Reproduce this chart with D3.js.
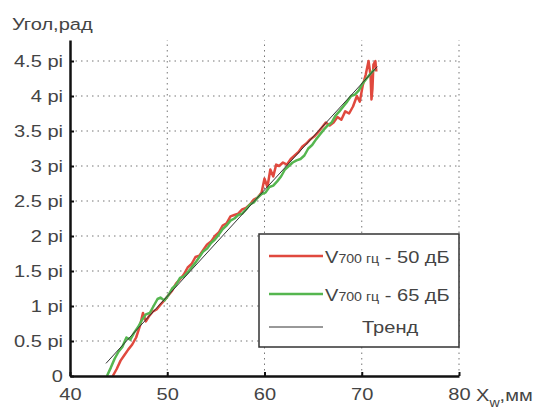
<!DOCTYPE html>
<html lang="ru">
<head>
    <meta charset="UTF-8">
    <title>Угол от X_w</title>
    <script src="https://d3js.org/d3.v7.min.js"></script>
    <style type="text/css">
        body { margin: 0; background: #fff; }
        text { font-family: "Liberation Sans", Arial, sans-serif; fill: #444; }
    </style>
</head>
<body>
<script type="text/javascript">

// data (x in mm, angle in units of pi)
var redX = [44.4, 44.8, 45.2, 45.6, 46.0, 46.4, 46.8, 47.2, 47.5, 47.8, 48.1, 48.5, 48.9, 49.3, 49.7, 50.1, 50.5, 50.9, 51.3, 51.7,
            52.1, 52.5, 52.9, 53.3, 53.7, 54.1, 54.5, 54.9, 55.3, 55.7, 56.1, 56.5, 56.9, 57.3, 57.7, 58.1, 58.5, 58.9, 59.3, 59.7,
            60.0, 60.3, 60.6, 60.9, 61.2, 61.5, 61.9, 62.3, 62.7, 63.1, 63.5, 63.9, 64.3, 64.7, 65.1, 65.5, 65.9, 66.3, 66.7, 67.1,
            67.5, 67.9, 68.3, 68.7, 69.1, 69.5, 69.8, 70.1, 70.4, 70.7, 70.9, 71.0, 71.1, 71.2, 71.4, 71.5];
var redY = [0.00, 0.10, 0.22, 0.30, 0.38, 0.45, 0.55, 0.72, 0.90, 0.78, 0.85, 0.92, 0.95, 1.02, 1.08, 1.15, 1.22, 1.32, 1.38, 1.45,
            1.55, 1.60, 1.70, 1.72, 1.80, 1.88, 1.92, 2.00, 2.05, 2.15, 2.18, 2.28, 2.30, 2.32, 2.38, 2.40, 2.45, 2.52, 2.55, 2.62,
            2.82, 2.70, 2.95, 2.85, 3.02, 3.00, 3.05, 3.02, 3.10, 3.15, 3.20, 3.28, 3.32, 3.38, 3.42, 3.48, 3.55, 3.62, 3.58, 3.62,
            3.70, 3.66, 3.78, 3.75, 3.85, 4.00, 3.92, 4.15, 4.30, 4.50, 4.30, 3.95, 4.10, 4.45, 4.50, 4.35];

var greenX = [43.8, 44.2, 44.6, 45.0, 45.4, 45.8, 46.2, 46.6, 47.0, 47.4, 47.8, 48.2, 48.6, 49.0, 49.3, 49.7, 50.1, 50.5, 50.9, 51.3,
              51.7, 52.1, 52.5, 52.9, 53.3, 53.7, 54.1, 54.5, 54.9, 55.3, 55.7, 56.1, 56.5, 56.9, 57.3, 57.7, 58.1, 58.5, 58.9, 59.3,
              59.7, 60.1, 60.5, 60.9, 61.3, 61.7, 62.1, 62.5, 62.9, 63.3, 63.7, 64.1, 64.5, 64.9, 65.3, 65.7, 66.1, 66.5, 66.9, 67.3,
              67.7, 68.1, 68.5, 68.9, 69.3, 69.7, 70.1, 70.5, 70.9, 71.3];
var greenY = [0.00, 0.12, 0.25, 0.35, 0.42, 0.55, 0.52, 0.62, 0.70, 0.80, 0.88, 0.90, 1.00, 1.10, 1.12, 1.08, 1.15, 1.25, 1.30, 1.40,
              1.42, 1.48, 1.55, 1.62, 1.70, 1.78, 1.82, 1.90, 1.95, 2.02, 2.10, 2.15, 2.22, 2.25, 2.30, 2.32, 2.38, 2.45, 2.48, 2.55,
              2.60, 2.62, 2.70, 2.72, 2.78, 2.85, 2.95, 3.00, 3.05, 3.08, 3.10, 3.15, 3.25, 3.30, 3.38, 3.45, 3.52, 3.58, 3.62, 3.72,
              3.78, 3.85, 3.92, 4.00, 4.02, 4.08, 4.18, 4.25, 4.32, 4.38];

var trendX = [43.7, 71.6];
var trendY = [0.18, 4.42];

var xTicks = [40, 50, 60, 70, 80];
var yTicks = [0, 0.5, 1, 1.5, 2, 2.5, 3, 3.5, 4, 4.5];
var yTickLabels = ["0", "0.5 pi", "1 pi", "1.5 pi", "2 pi", "2.5 pi", "3 pi", "3.5 pi", "4 pi", "4.5 pi"];

var legendItems = [
    { sub: "700 гц", rest: " - 50 дБ", color: "#e0493e" },
    { sub: "700 гц", rest: " - 65 дБ", color: "#55b64f" },
    { label: "Тренд", color: "#333" }
];

//Width and height
var w = 542;
var h = 410;
var stretch = "scale(1.18,1)";

var xScale = d3.scaleLinear().domain([40, 80]).range([70, 459]);
var yScale = d3.scaleLinear().domain([0, 4.8]).range([376, 40]);

var svg = d3.select("body")
    .append("svg")
    .attr("width", w)
    .attr("height", h);

//grid
svg.append("g").selectAll("line")
    .data(xTicks.slice(1))
    .enter()
    .append("line")
    .attr("x1", function(d) { return xScale(d); })
    .attr("x2", function(d) { return xScale(d); })
    .attr("y1", yScale(0))
    .attr("y2", yScale(4.8))
    .attr("stroke", "#777")
    .attr("stroke-width", 1)
    .attr("stroke-dasharray", "1.5,4");

svg.append("g").selectAll("line")
    .data(yTicks.slice(1))
    .enter()
    .append("line")
    .attr("x1", xScale(40))
    .attr("x2", xScale(80))
    .attr("y1", function(d) { return yScale(d); })
    .attr("y2", function(d) { return yScale(d); })
    .attr("stroke", "#777")
    .attr("stroke-width", 1)
    .attr("stroke-dasharray", "1.5,4");

//series
var line = d3.line()
    .x(function(d) { return xScale(d[0]); })
    .y(function(d) { return yScale(d[1]); });

function zip(xs, ys) {
    return xs.map(function(x, i) { return [x, ys[i]]; });
}

svg.append("path")
    .datum(zip(redX, redY))
    .attr("d", line)
    .attr("fill", "none")
    .attr("stroke", legendItems[0].color)
    .attr("stroke-width", 2.5)
    .attr("stroke-linejoin", "round");

svg.append("path")
    .datum(zip(greenX, greenY))
    .attr("d", line)
    .attr("fill", "none")
    .attr("stroke", legendItems[1].color)
    .attr("stroke-width", 2.5)
    .attr("stroke-linejoin", "round");

svg.append("path")
    .datum(zip(trendX, trendY))
    .attr("d", line)
    .attr("fill", "none")
    .attr("stroke", legendItems[2].color)
    .attr("stroke-width", 1);

//axes
var xAxis = d3.axisBottom(xScale)
    .tickValues(xTicks)
    .tickSizeInner(-4)
    .tickSizeOuter(0)
    .tickPadding(12);

var yAxis = d3.axisLeft(yScale)
    .tickValues(yTicks)
    .tickFormat(function(d, i) { return yTickLabels[i]; })
    .tickSizeInner(-4)
    .tickSizeOuter(0);

var gx = svg.append("g")
    .attr("transform", "translate(0," + yScale(0) + ")")
    .call(xAxis);

var gy = svg.append("g")
    .attr("transform", "translate(" + xScale(40) + ",0)")
    .call(yAxis);

[gx, gy].forEach(function(g) {
    g.select(".domain").attr("stroke", "#111").attr("stroke-width", 2.5);
    g.selectAll(".tick line").attr("stroke", "#111").attr("stroke-width", 2);
    g.selectAll(".tick text")
        .attr("font-size", "17px")
        .attr("font-family", "Liberation Sans, Arial, sans-serif")
        .attr("fill", "#4a4a4a");
});

gx.selectAll(".tick text").attr("transform", stretch);
gy.selectAll(".tick text")
    .attr("x", null)
    .attr("transform", "translate(-7,0) " + stretch);

//axis titles
svg.append("text")
    .attr("transform", "translate(12,30) " + stretch)
    .attr("font-size", "17px")
    .text("Угол,рад");

var xt = svg.append("text")
    .attr("transform", "translate(476,401) " + stretch)
    .attr("font-size", "17px");
xt.append("tspan").text("X");
xt.append("tspan").attr("font-size", "12px").attr("dy", 6).text("w");
xt.append("tspan").attr("dy", -6).text(",мм");

//legend
var legend = svg.append("g");

legend.append("rect")
    .attr("x", 259)
    .attr("y", 234)
    .attr("width", 200)
    .attr("height", 113)
    .attr("fill", "#fff")
    .attr("stroke", "#333")
    .attr("stroke-width", 1.5);

var rowY = [256, 294, 327];

legend.selectAll("line.key")
    .data(legendItems)
    .enter()
    .append("line")
    .attr("class", "key")
    .attr("x1", 269)
    .attr("x2", 323)
    .attr("y1", function(d, i) { return rowY[i]; })
    .attr("y2", function(d, i) { return rowY[i]; })
    .attr("stroke", function(d) { return d.color; })
    .attr("stroke-width", function(d, i) { return i < 2 ? 2.5 : 1; });

legendItems.forEach(function(d, i) {
    var t = legend.append("text")
        .attr("font-size", "17px");
    if (d.label) {
        t.attr("transform", "translate(362," + (rowY[i] + 6) + ") " + stretch).text(d.label);
    } else {
        t.attr("transform", "translate(325," + (rowY[i] + 7) + ") " + stretch);
        t.append("tspan").text("V");
        t.append("tspan").attr("font-size", "12px").text(d.sub);
        t.append("tspan").text(d.rest);
    }
});

</script>
</body>
</html>
